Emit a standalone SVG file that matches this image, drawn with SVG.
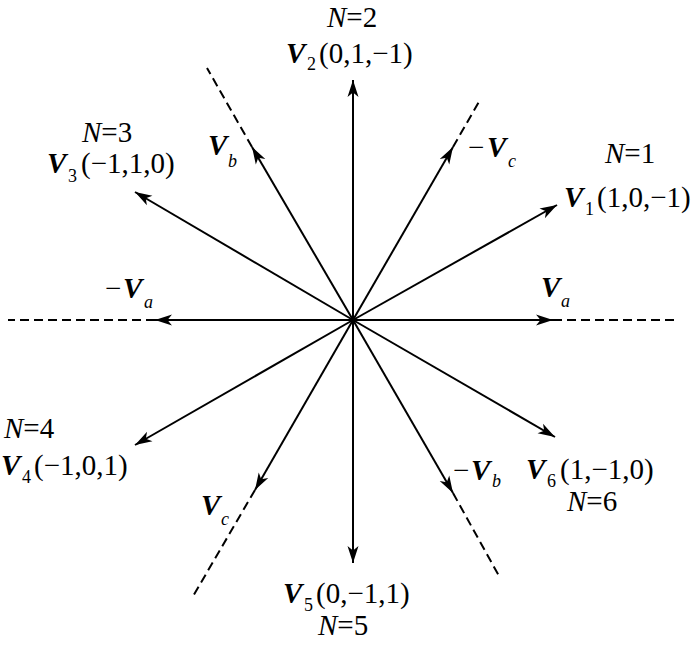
<svg xmlns="http://www.w3.org/2000/svg" width="700" height="647" viewBox="0 0 700 647">
<style>
text{font-family:'Liberation Serif','Times New Roman',serif;font-size:29px;fill:#000}
.i{font-style:italic}
.v{font-style:italic;font-weight:bold}
text.s{font-size:18px}
text.si{font-size:18px;font-style:italic}
.sol{stroke:#000;stroke-width:2;fill:none}
.dash{stroke:#000;stroke-width:2;fill:none;stroke-dasharray:9 5}
</style>
<defs>
<marker id="ah" markerUnits="userSpaceOnUse" markerWidth="20" markerHeight="14" refX="0" refY="0" viewBox="-18 -7 20 14" orient="auto">
<path d="M0,0 L-17,-5.5 L-12.5,0 L-17,5.5 Z" fill="#000"/>
</marker>
</defs>
<rect width="700" height="647" fill="#fff"/>
<g id="connectors">
<line class="sol" x1="353" y1="320" x2="557" y2="205" marker-end="url(#ah)"/>
<line class="sol" x1="353" y1="320" x2="353" y2="80" marker-end="url(#ah)"/>
<line class="sol" x1="353" y1="320" x2="135" y2="192" marker-end="url(#ah)"/>
<line class="sol" x1="353" y1="320" x2="135" y2="445" marker-end="url(#ah)"/>
<line class="sol" x1="353" y1="320" x2="353" y2="563" marker-end="url(#ah)"/>
<line class="sol" x1="353" y1="320" x2="555" y2="437" marker-end="url(#ah)"/>
<line class="sol" x1="353" y1="320" x2="553" y2="320" marker-end="url(#ah)"/>
<line class="dash" x1="553" y1="320" x2="675" y2="320"/>
<line class="sol" x1="353" y1="320" x2="155" y2="320" marker-end="url(#ah)"/>
<line class="dash" x1="155" y1="320" x2="8" y2="320"/>
<line class="sol" x1="353" y1="320" x2="252" y2="147" marker-end="url(#ah)"/>
<line class="dash" x1="252" y1="147" x2="207" y2="68"/>
<line class="sol" x1="353" y1="320" x2="453" y2="147" marker-end="url(#ah)"/>
<line class="dash" x1="453" y1="147" x2="480" y2="100"/>
<line class="sol" x1="353" y1="320" x2="453" y2="493" marker-end="url(#ah)"/>
<line class="dash" x1="453" y1="493" x2="499" y2="576"/>
<line class="sol" x1="353" y1="320" x2="255" y2="490" marker-end="url(#ah)"/>
<line class="dash" x1="255" y1="490" x2="192" y2="598"/>
</g>
<g id="node-v2">
<text x="327" y="27"><tspan class="i">N</tspan>=2</text>
<text x="286" y="63"><tspan class="v">V</tspan></text>
<text class="s" x="307" y="70">2</text>
<text x="319" y="63">(0,1,−1)</text>
</g>
<g id="node-v3">
<text x="82" y="142"><tspan class="i">N</tspan>=3</text>
<text x="47" y="173"><tspan class="v">V</tspan></text>
<text class="s" x="68" y="182">3</text>
<text x="81" y="173">(−1,1,0)</text>
</g>
<g id="node-vb">
<text x="208" y="155"><tspan class="v">V</tspan></text>
<text class="si" x="228" y="167">b</text>
</g>
<g id="node-neg-vc">
<text x="468" y="157">−</text>
<text x="487" y="157"><tspan class="v">V</tspan></text>
<text class="si" x="508" y="167">c</text>
</g>
<g id="node-v1">
<text x="605" y="163"><tspan class="i">N</tspan>=1</text>
<text x="564" y="207"><tspan class="v">V</tspan></text>
<text class="s" x="585" y="215">1</text>
<text x="597" y="207">(1,0,−1)</text>
</g>
<g id="node-neg-va">
<text x="105" y="298">−</text>
<text x="123" y="298"><tspan class="v">V</tspan></text>
<text class="si" x="144" y="308">a</text>
</g>
<g id="node-va">
<text x="541" y="297"><tspan class="v">V</tspan></text>
<text class="si" x="561" y="307">a</text>
</g>
<g id="node-v4">
<text x="4" y="438"><tspan class="i">N</tspan>=4</text>
<text x="1" y="475"><tspan class="v">V</tspan></text>
<text class="s" x="22" y="483">4</text>
<text x="34" y="475">(−1,0,1)</text>
</g>
<g id="node-neg-vb">
<text x="453" y="480">−</text>
<text x="471" y="480"><tspan class="v">V</tspan></text>
<text class="si" x="492" y="487">b</text>
</g>
<g id="node-v6">
<text x="526" y="479"><tspan class="v">V</tspan></text>
<text class="s" x="547" y="487">6</text>
<text x="560" y="479">(1,−1,0)</text>
<text x="567" y="511"><tspan class="i">N</tspan>=6</text>
</g>
<g id="node-vc">
<text x="201" y="515"><tspan class="v">V</tspan></text>
<text class="si" x="221" y="525">c</text>
</g>
<g id="node-v5">
<text x="283" y="603"><tspan class="v">V</tspan></text>
<text class="s" x="304" y="611">5</text>
<text x="316" y="603">(0,−1,1)</text>
<text x="318" y="635"><tspan class="i">N</tspan>=5</text>
</g>
</svg>
